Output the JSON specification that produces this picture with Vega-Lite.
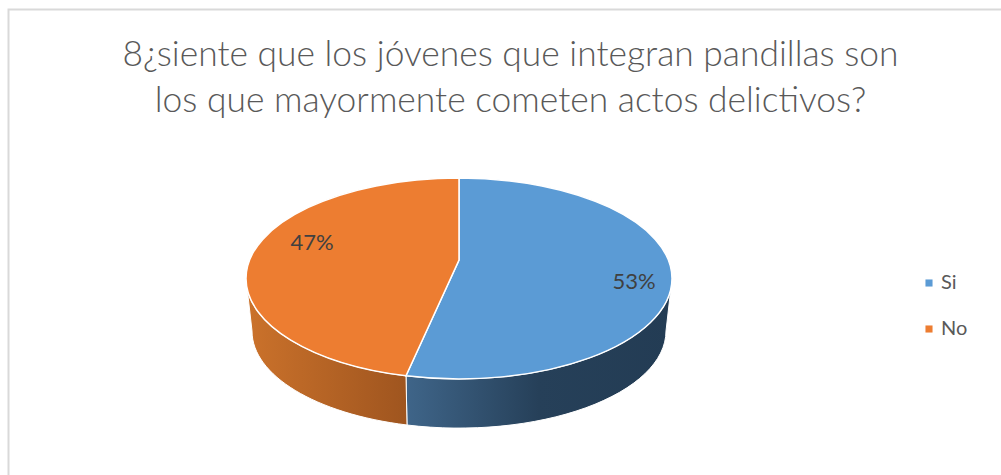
{
"$schema":"https://vega.github.io/schema/vega-lite/v6.json",
"autosize":{"type":"none"},
"padding":{"left":0,"top":130,"right":0,"bottom":0},
"width":1001,"height":345,
"background":"white",
"config":{"view":{"stroke":null}},
"title":{"text":["8¿siente que los jóvenes que integran pandillas son","los que mayormente cometen actos delictivos?"],"font":"Lato","fontSize":35.4,"fontWeight":300,"color":"#595959","anchor":"middle","frame":"group","dx":10,"offset":-114,"lineHeight":46},
"data":{"values":[{"respuesta":"Si","porcentaje":0.53},{"respuesta":"No","porcentaje":0.47}]},
"layer":[
{"transform":[{"filter":"datum.respuesta==='Si'"}],
 "mark":{"type":"point","filled":false,"opacity":1,"size":4,"stroke":"#d9d9d9","strokeWidth":2,"shape":"M-492 175 V-293 H503"},"encoding":{}},
{"transform":[{"filter":"datum.respuesta==='Si'"}],
 "mark":{"type":"point","filled":true,"opacity":1,"size":4,"stroke":"white","strokeWidth":1,"shape":"M171.5 -24 L165.5 28.5 A207 97 0 0 1 -93.5 122.5 L-94.5 73.3 A213 100.5 0 0 0 171.5 -24 Z",
 "fill":{"gradient":"linear","x1":0,"y1":0,"x2":1,"y2":0,"stops":[{"offset":0,"color":"#3f6589"},{"offset":0.5,"color":"#264059"},{"offset":1,"color":"#233c54"}]}},"encoding":{}},
{"transform":[{"filter":"datum.respuesta==='No'"}],
 "mark":{"type":"point","filled":true,"opacity":1,"size":4,"stroke":"white","strokeWidth":1,"shape":"M-254.5 -24 L-248.5 28.5 A207 97 0 0 0 -93.5 122.5 L-94.5 73.3 A213 100.5 0 0 1 -254.5 -24 Z",
 "fill":{"gradient":"linear","x1":0,"y1":0,"x2":1,"y2":0,"stops":[{"offset":0,"color":"#cb722b"},{"offset":1,"color":"#9f551f"}]}},"encoding":{}},
{"transform":[{"filter":"datum.respuesta==='Si'"}],
 "mark":{"type":"point","filled":true,"opacity":1,"size":4,"stroke":"white","strokeWidth":1.5,"shape":"M-41.5 -124.5 A213 100.5 0 0 1 171.5 -24 A213 100.5 0 0 1 -94.5 73.3 L-41.5 -42.5 Z"},
 "encoding":{
  "color":{"field":"respuesta","type":"nominal","sort":["Si","No"],"scale":{"domain":["Si","No"],"range":["#5b9bd5","#ed7d31"]},
   "legend":{"title":null,"orient":"none","legendX":919,"legendY":143,"symbolType":"square","symbolSize":50,"symbolStrokeWidth":0,"labelFont":"Lato","labelFontSize":20,"labelColor":"#595959","rowPadding":26,"labelOffset":2}}
 }},
{"transform":[{"filter":"datum.respuesta==='No'"}],
 "mark":{"type":"point","filled":true,"opacity":1,"size":4,"stroke":"white","strokeWidth":1.5,"shape":"M-41.5 -124.5 A213 100.5 0 0 0 -254.5 -24 A213 100.5 0 0 0 -94.5 73.3 L-41.5 -42.5 Z"},
 "encoding":{
  "color":{"field":"respuesta","type":"nominal","sort":["Si","No"]}
 }},
{"transform":[{"filter":"datum.respuesta==='Si'"}],
 "mark":{"type":"text","font":"Lato","fontSize":22,"color":"#404040","dx":133.5,"dy":-20.5},
 "encoding":{"text":{"field":"porcentaje","type":"quantitative","format":".0%"}}},
{"transform":[{"filter":"datum.respuesta==='No'"}],
 "mark":{"type":"text","font":"Lato","fontSize":22,"color":"#404040","dx":-188.5,"dy":-59.5},
 "encoding":{"text":{"field":"porcentaje","type":"quantitative","format":".0%"}}}
]
}
